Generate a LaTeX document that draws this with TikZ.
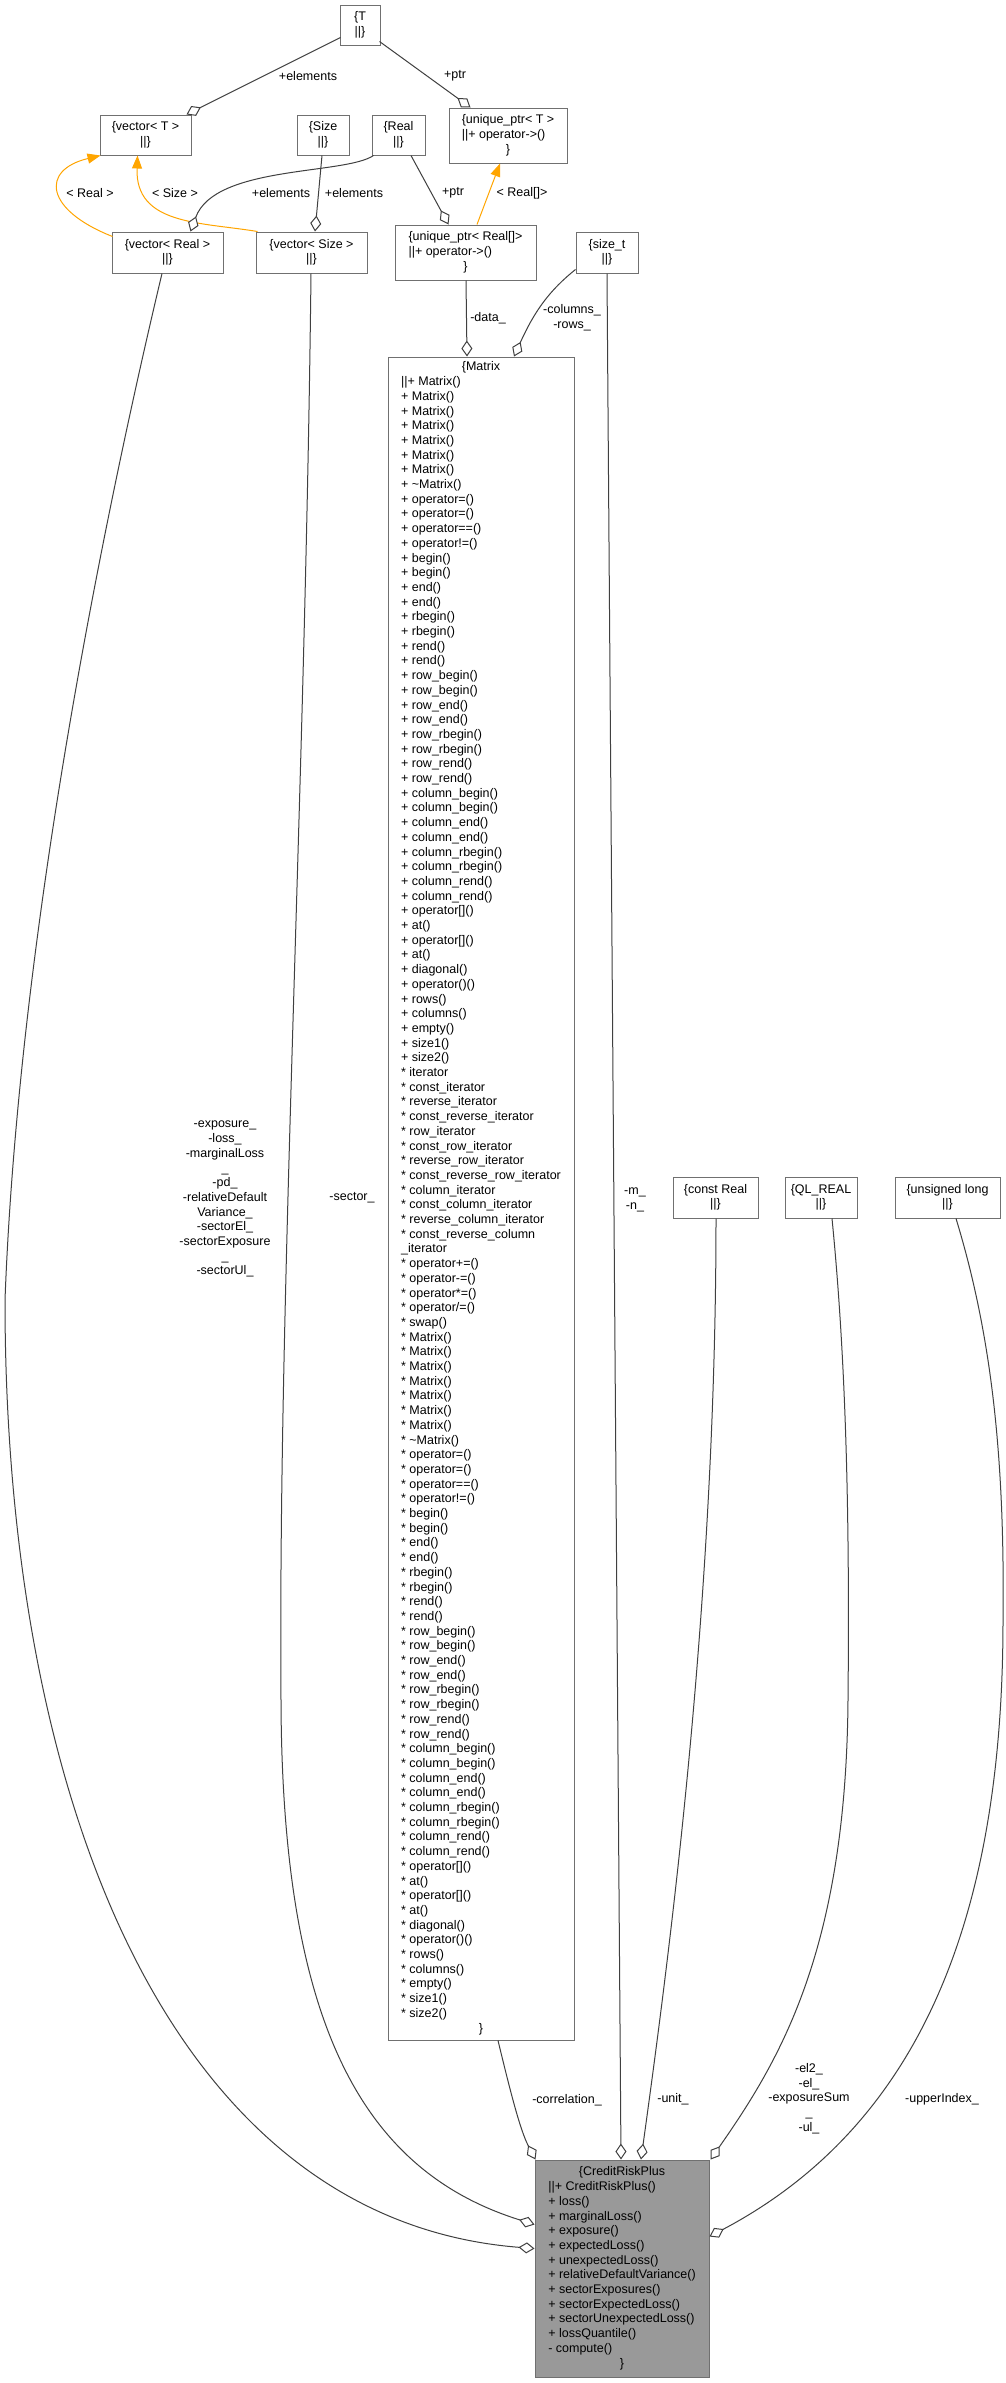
\documentclass[tikz,border=0pt]{standalone}
\usepackage{fontspec}
\setmainfont{Liberation Sans}
\usetikzlibrary{arrows.meta,calc}

\definecolor{edgegray}{HTML}{404040}
\definecolor{boxgray}{HTML}{707070}
\definecolor{classfill}{HTML}{999999}
\definecolor{tmplorange}{HTML}{FFA500}

\newcommand{\umlfont}{\fontsize{12.5}{14.7}\selectfont}
\newcommand{\ctrline}[1]{\multicolumn{1}{@{}c@{}}{#1}}
\newcommand{\typebox}[1]{\begin{tabular}{@{}c@{}}\{#1\\||\}\end{tabular}}

\tikzset{
  umlbox/.style={rectangle, draw=boxgray, line width=1pt, fill=white, inner sep=0pt, font=\umlfont, text=black},
  mainbox/.style={umlbox, fill=classfill},
  lbl/.style={inner sep=0pt, font=\umlfont, text=black},
  agg/.style={draw=edgegray, line width=1pt, -{Diamond[length=16pt,width=11pt,fill=white]}},
  tmpl/.style={draw=tmplorange, line width=1pt, -{Triangle[length=13pt,width=10pt,fill=tmplorange]}},
}

\begin{document}
\begin{tikzpicture}[x=1pt, y=-1pt]
\fill[white] (0,0) rectangle (1006,2383);
\useasboundingbox (0,0) rectangle (1006,2383);

% ---- type nodes ----
\node[umlbox, minimum width=40, minimum height=40] (T) at (360,25) {\typebox{T}};
\node[umlbox, minimum width=91, minimum height=40] (vecT) at (145.5,135) {\typebox{vector< T >}};
\node[umlbox, minimum width=52, minimum height=40] (Size) at (323,135) {\typebox{Size}};
\node[umlbox, minimum width=53, minimum height=40] (Real) at (398.5,135) {\typebox{Real}};
\node[umlbox, minimum width=118, minimum height=55] (uptrT) at (508,135.5)
  {\begin{tabular}{@{}l@{}}\ctrline{\{unique\_ptr< T >}\\||+ operator->()\\\ctrline{\}}\end{tabular}};
\node[umlbox, minimum width=111, minimum height=41] (vecReal) at (167.5,252.5) {\typebox{vector< Real >}};
\node[umlbox, minimum width=111, minimum height=41] (vecSize) at (311.5,252.5) {\typebox{vector< Size >}};
\node[umlbox, minimum width=141, minimum height=55] (uptrReal) at (465.5,252.5)
  {\begin{tabular}{@{}l@{}}\ctrline{\{unique\_ptr< Real[]>}\\||+ operator->()\\\ctrline{\}}\end{tabular}};
\node[umlbox, minimum width=62, minimum height=41] (sizet) at (607,252.5) {\typebox{size\_t}};
\node[umlbox, minimum width=85, minimum height=41] (constReal) at (715.5,1197.5) {\typebox{const Real}};
\node[umlbox, minimum width=72, minimum height=41] (qlreal) at (821,1197.5) {\typebox{QL\_REAL}};
\node[umlbox, minimum width=105, minimum height=41] (ulong) at (947.5,1197.5) {\typebox{unsigned long}};

% ---- Matrix ----
\node[umlbox, minimum width=186, minimum height=1683] (Matrix) at (481,1198.5)
{\begin{tabular}{@{}l@{}}
\ctrline{\{Matrix}\\
||+ Matrix()\\
+ Matrix()\\
+ Matrix()\\
+ Matrix()\\
+ Matrix()\\
+ Matrix()\\
+ Matrix()\\
+ \textasciitilde Matrix()\\
+ operator=()\\
+ operator=()\\
+ operator==()\\
+ operator!=()\\
+ begin()\\
+ begin()\\
+ end()\\
+ end()\\
+ rbegin()\\
+ rbegin()\\
+ rend()\\
+ rend()\\
+ row\_begin()\\
+ row\_begin()\\
+ row\_end()\\
+ row\_end()\\
+ row\_rbegin()\\
+ row\_rbegin()\\
+ row\_rend()\\
+ row\_rend()\\
+ column\_begin()\\
+ column\_begin()\\
+ column\_end()\\
+ column\_end()\\
+ column\_rbegin()\\
+ column\_rbegin()\\
+ column\_rend()\\
+ column\_rend()\\
+ operator[]()\\
+ at()\\
+ operator[]()\\
+ at()\\
+ diagonal()\\
+ operator()()\\
+ rows()\\
+ columns()\\
+ empty()\\
+ size1()\\
+ size2()\\
{*} iterator\\
{*} const\_iterator\\
{*} reverse\_iterator\\
{*} const\_reverse\_iterator\\
{*} row\_iterator\\
{*} const\_row\_iterator\\
{*} reverse\_row\_iterator\\
{*} const\_reverse\_row\_iterator\\
{*} column\_iterator\\
{*} const\_column\_iterator\\
{*} reverse\_column\_iterator\\
{*} const\_reverse\_column\\
\_iterator\\
{*} operator+=()\\
{*} operator-=()\\
{*} operator*=()\\
{*} operator/=()\\
{*} swap()\\
{*} Matrix()\\
{*} Matrix()\\
{*} Matrix()\\
{*} Matrix()\\
{*} Matrix()\\
{*} Matrix()\\
{*} Matrix()\\
{*} \textasciitilde Matrix()\\
{*} operator=()\\
{*} operator=()\\
{*} operator==()\\
{*} operator!=()\\
{*} begin()\\
{*} begin()\\
{*} end()\\
{*} end()\\
{*} rbegin()\\
{*} rbegin()\\
{*} rend()\\
{*} rend()\\
{*} row\_begin()\\
{*} row\_begin()\\
{*} row\_end()\\
{*} row\_end()\\
{*} row\_rbegin()\\
{*} row\_rbegin()\\
{*} row\_rend()\\
{*} row\_rend()\\
{*} column\_begin()\\
{*} column\_begin()\\
{*} column\_end()\\
{*} column\_end()\\
{*} column\_rbegin()\\
{*} column\_rbegin()\\
{*} column\_rend()\\
{*} column\_rend()\\
{*} operator[]()\\
{*} at()\\
{*} operator[]()\\
{*} at()\\
{*} diagonal()\\
{*} operator()()\\
{*} rows()\\
{*} columns()\\
{*} empty()\\
{*} size1()\\
{*} size2()\\
\ctrline{\}}
\end{tabular}};

% ---- CreditRiskPlus ----
\node[mainbox, minimum width=174, minimum height=217] (CRP) at (622,2268.5)
{\begin{tabular}{@{}l@{}}
\ctrline{\{CreditRiskPlus}\\
||+ CreditRiskPlus()\\
+ loss()\\
+ marginalLoss()\\
+ exposure()\\
+ expectedLoss()\\
+ unexpectedLoss()\\
+ relativeDefaultVariance()\\
+ sectorExposures()\\
+ sectorExpectedLoss()\\
+ sectorUnexpectedLoss()\\
+ lossQuantile()\\
- compute()\\
\ctrline{\}}
\end{tabular}};

% ---- via points of the long connectors ----
\coordinate (qlvia) at (848,1700);
\coordinate (ulvia) at (1003,1620);
\coordinate (secvia) at (281,1700);
\coordinate (expvia) at (5,1300);

% ---- connectors ----
\draw[agg] ($(T.south west)+(1,-8)$) -- ($(vecT.north east)+(-5,0)$);
\draw[agg] ($(T.south east)+(-1,-4)$) -- ($(uptrT.north west)+(22,0)$);
\draw[tmpl] ($(vecReal.north west)+(1,5)$) .. controls (45,210) and (40,170) .. ($(vecT.south west)+(1,0)$);
\draw[tmpl] ($(vecSize.north west)+(2,0)$) .. controls (200,222) and (135,225) .. ($(vecT.south west)+(38,0)$);
\draw[agg] ($(Real.south west)+(2,0)$) .. controls (345,175) and (215,165) .. ($(vecReal.north west)+(79,0)$);
\draw[agg] ($(Size.south)+(-1,0)$) -- ($(vecSize.north)+(3.5,0)$);
\draw[agg] ($(Real.south)+(12.5,0)$) -- ($(uptrReal.north west)+(54,0)$);
\draw[tmpl] ($(uptrReal.north)+(11.5,0)$) -- ($(uptrT.south)+(-8,0)$);
\draw[agg] ($(uptrReal.south)+(0.5,0)$) -- ($(Matrix.north)+(-14,0)$);
\draw[agg] ($(sizet.south west)+(0,-4)$) .. controls (550,290) and (535,310) .. ($(Matrix.north)+(33,0)$);
\draw[agg] (sizet.south) -- ($(CRP.north)+(-1,0)$);
\draw[agg] ($(constReal.south)+(0.5,0)$) .. controls (716,1600) and (670,1950) .. ($(CRP.north)+(19,0)$);
\draw[agg] ($(qlreal.south)+(11,0)$) .. controls (845,1350) and (850,1500) .. (qlvia)
  .. controls (846,1950) and (780,2060) .. ($(CRP.north east)+(1,0)$);
\draw[agg] ($(ulong.south)+(8.5,0)$) .. controls (990,1330) and (1005,1450) .. (ulvia)
  .. controls (1003,1900) and (930,2120) .. ($(CRP.north east)+(0,77)$);
\draw[agg] ($(Matrix.south)+(17,0)$) .. controls (510,2090) and (520,2130) .. ($(CRP.north west)+(1,0)$);
\draw[agg] ($(vecSize.south)+(-0.5,0)$) .. controls (305,800) and (278,1300) .. (secvia)
  .. controls (282,2020) and (360,2170) .. ($(CRP.north west)+(0,65)$);
\draw[agg] ($(vecReal.south)+(-5.5,0)$) .. controls (120,450) and (20,900) .. (expvia)
  .. controls (5,1800) and (170,2220) .. ($(CRP.north west)+(0,89)$);

% ---- connector labels ----
\node[lbl] (lTelem) at (308,76) {+elements};
\node[lbl] (lTptr) at (455,76) {+ptr};
\node[lbl] (lRealT) at (90,193) {< Real >};
\node[lbl] (lSizeT) at (175,193) {< Size >};
\node[lbl] (lRealElem) at (281,193) {+elements};
\node[lbl] (lSizeElem) at (354,193) {+elements};
\node[lbl] (lRealPtr) at (453,193) {+ptr};
\node[lbl] (lRealArr) at (522,193) {< Real[]>};
\node[lbl] (lData) at (488,318) {-data\_};
\node[lbl] (lColRows) at (572,318) {\begin{tabular}{@{}c@{}}-columns\_\\-rows\_\end{tabular}};
\node[lbl] (lExposure) at (225,1198.5) {\begin{tabular}{@{}c@{}}-exposure\_\\-loss\_\\-marginalLoss\\\_\\-pd\_\\-relativeDefault\\Variance\_\\-sectorEl\_\\-sectorExposure\\\_\\-sectorUl\_\end{tabular}};
\node[lbl] (lSector) at (352,1198) {-sector\_};
\node[lbl] (lMN) at (635,1199) {\begin{tabular}{@{}c@{}}-m\_\\-n\_\end{tabular}};
\node[lbl] (lCorr) at (567,2100) {-correlation\_};
\node[lbl] (lUnit) at (673,2099) {-unit\_};
\node[lbl] (lEl) at (809,2099) {\begin{tabular}{@{}c@{}}-el2\_\\-el\_\\-exposureSum\\\_\\-ul\_\end{tabular}};
\node[lbl] (lUpper) at (942,2099) {-upperIndex\_};
\end{tikzpicture}
\end{document}
